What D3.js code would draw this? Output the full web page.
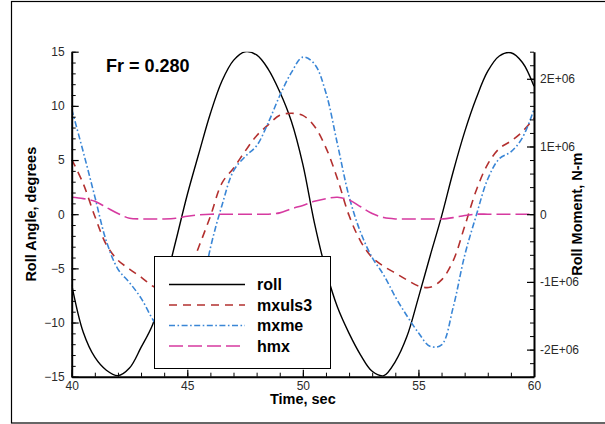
<!DOCTYPE html>
<html>
<head>
<meta charset="utf-8">
<script src="https://cdn.jsdelivr.net/npm/d3@7"></script>
<style>
  body { margin: 0; background: #fff; }
  text { font-family: "Liberation Sans", Arial, sans-serif; }
</style>
</head>
<body>
<div id="chart"></div>
<script>
// time stamps, sec
const time = [40, 40.5, 41, 41.5, 42, 42.5, 43, 43.5, 44, 44.5, 45, 45.5, 46, 46.5, 47, 47.5,
  48, 48.5, 49, 49.5, 50, 50.5, 51, 51.5, 52, 52.5, 53, 53.5, 54, 54.5, 55, 55.5, 56, 56.5,
  57, 57.5, 58, 58.5, 59, 59.5, 60];

// roll angle, degrees (left axis)
const roll = [-6.5, -10.9, -13.2, -14.4, -14.9, -14.2, -12.3, -10.2, -6.7, -2.5, 1.8, 5.6,
  9.3, 12.3, 14.2, 15.0, 14.7, 13.4, 11.3, 8.6, 4.6, -0.8, -5.2, -8.6, -11.0, -13.0, -14.5,
  -14.9, -13.6, -11.3, -7.7, -3.9, -0.2, 3.9, 7.6, 10.7, 13.2, 14.6, 14.9, 14.0, 11.8];

// roll moments, N-m (right axis)
const mxuls3 = [0.81e6, 0.45e6, -0.03e6, -0.45e6, -0.68e6, -0.81e6, -0.93e6, -1.06e6, -1.13e6,
  -1.11e6, -0.90e6, -0.48e6, -0.03e6, 0.46e6, 0.68e6, 0.93e6, 1.16e6, 1.32e6, 1.46e6, 1.49e6,
  1.46e6, 1.30e6, 0.98e6, 0.52e6, -0.02e6, -0.40e6, -0.64e6, -0.77e6, -0.87e6, -0.97e6,
  -1.06e6, -1.08e6, -0.97e6, -0.69e6, -0.18e6, 0.35e6, 0.74e6, 0.97e6, 1.08e6, 1.22e6, 1.42e6];

const mxme = [1.55e6, 0.92e6, 0.26e6, -0.40e6, -0.81e6, -1.01e6, -1.24e6, -1.55e6, -1.80e6,
  -1.96e6, -1.87e6, -1.37e6, -0.50e6, 0.13e6, 0.64e6, 0.85e6, 1.01e6, 1.35e6, 1.75e6, 2.09e6,
  2.32e6, 2.22e6, 1.79e6, 1.03e6, 0.26e6, -0.27e6, -0.64e6, -0.90e6, -1.22e6, -1.50e6,
  -1.75e6, -1.95e6, -1.93e6, -1.38e6, -0.61e6, -0.02e6, 0.52e6, 0.82e6, 0.92e6, 1.13e6, 1.55e6];

const hmx = [0.25e6, 0.23e6, 0.19e6, 0.10e6, 0.01e6, -0.06e6, -0.07e6, -0.07e6, -0.07e6,
  -0.06e6, -0.03e6, -0.01e6, 0, 0, 0, 0, 0, 0, 0.02e6, 0.08e6, 0.13e6, 0.19e6, 0.23e6, 0.25e6,
  0.21e6, 0.11e6, 0.01e6, -0.05e6, -0.07e6, -0.07e6, -0.07e6, -0.07e6, -0.07e6, -0.05e6,
  -0.02e6, 0, 0, 0, 0, 0, 0];

// tick labels
const xTicks = [40, 45, 50, 55, 60];
const yTicks = [-15, -10, -5, 0, 5, 10, 15];
const yRightTicks = [-2e6, -1e6, 0, 1e6, 2e6];
const yRightLabels = ["-2E+06", "-1E+06", "0", "1E+06", "2E+06"];

const series = [
  { name: "roll", values: roll, axis: "left", color: "#000000", dash: null, width: 1.4 },
  { name: "mxuls3", values: mxuls3, axis: "right", color: "#b3302f", dash: "8,6", width: 1.6 },
  { name: "mxme", values: mxme, axis: "right", color: "#3a86d6", dash: "6,2.5,1.6,2.5", width: 1.6 },
  { name: "hmx", values: hmx, axis: "right", color: "#d63aa0", dash: "14,5", width: 1.6 },
];

const W = 605, H = 424;
const margin = { top: 51.7, right: 71, bottom: 47.3, left: 71.7 };
const width = W - margin.left - margin.right;
const height = H - margin.top - margin.bottom;

const root = d3.select("#chart").append("svg")
  .attr("width", W)
  .attr("height", H);

// outer frame
root.append("rect")
  .attr("x", 11.5).attr("y", 1.5)
  .attr("width", 700).attr("height", 421.5)
  .attr("fill", "none")
  .attr("stroke", "#000")
  .attr("stroke-width", 1.2);

const svg = root.append("g")
  .attr("transform", `translate(${margin.left},${margin.top})`);

// scales
const x = d3.scaleLinear().domain([40, 60]).range([0, width]);
const y = d3.scaleLinear().domain([-15, 15]).range([height, 0]);
const yR = d3.scaleLinear().domain([-2.4e6, 2.4e6]).range([height, 0]);

svg.append("clipPath").attr("id", "clip")
  .append("rect").attr("width", width).attr("height", height);

// lines
const plot = svg.append("g").attr("clip-path", "url(#clip)");
series.forEach(s => {
  const sc = s.axis === "left" ? y : yR;
  const line = d3.line()
    .x((d, i) => x(time[i]))
    .y(d => sc(d))
    .curve(d3.curveCatmullRom.alpha(0.5));
  plot.append("path")
    .datum(s.values)
    .attr("fill", "none")
    .attr("stroke", s.color)
    .attr("stroke-width", s.width)
    .attr("stroke-dasharray", s.dash)
    .attr("d", line);
});

// minor ticks
svg.append("g")
  .call(d3.axisLeft(y).tickValues(d3.range(-15, 16, 1)).tickSize(-4).tickFormat(""))
  .call(g => g.select(".domain").remove());
svg.append("g")
  .attr("transform", `translate(${width},0)`)
  .call(d3.axisRight(yR).tickValues(d3.range(-24, 25, 2).map(v => v * 1e5)).tickSize(-4).tickFormat(""))
  .call(g => g.select(".domain").remove());
svg.append("g")
  .attr("transform", `translate(0,${height})`)
  .call(d3.axisBottom(x).tickValues(d3.range(40, 61, 1)).tickSize(-4).tickFormat(""))
  .call(g => g.select(".domain").remove());

// major axes
const styleAxis = g => {
  g.select(".domain").attr("stroke-width", 2);
  g.selectAll(".tick line").attr("stroke-width", 1.2);
  g.selectAll("text").style("font-size", "12px").attr("fill", "#2a2a2a");
};
svg.append("g")
  .call(d3.axisLeft(y).tickValues(yTicks).tickSize(-7).tickSizeOuter(0).tickPadding(7))
  .call(styleAxis);
svg.append("g")
  .attr("transform", `translate(${width},0)`)
  .call(d3.axisRight(yR).tickValues(yRightTicks).tickSize(-7).tickSizeOuter(0).tickPadding(6)
    .tickFormat((d, i) => yRightLabels[i]))
  .call(styleAxis);
svg.append("g")
  .attr("transform", `translate(0,${height})`)
  .call(d3.axisBottom(x).tickValues(xTicks).tickSize(-7).tickSizeOuter(0).tickPadding(4.5))
  .call(styleAxis);

// axis titles
svg.append("text")
  .attr("x", width / 2)
  .attr("y", height + 27.5)
  .attr("text-anchor", "middle")
  .style("font-size", "14.5px")
  .style("font-weight", "bold")
  .text("Time, sec");

svg.append("text")
  .attr("transform", `translate(${31 - margin.left},${height / 2}) rotate(-90)`)
  .attr("text-anchor", "middle")
  .attr("dy", "0.35em")
  .style("font-size", "14.5px")
  .style("font-weight", "bold")
  .text("Roll Angle, degrees");

svg.append("text")
  .attr("transform", `translate(${576.5 - margin.left},${height / 2}) rotate(-90)`)
  .attr("text-anchor", "middle")
  .attr("dy", "0.35em")
  .style("font-size", "14.5px")
  .style("font-weight", "bold")
  .text("Roll Moment, N-m");

// annotation
svg.append("text")
  .attr("x", 106 - margin.left)
  .attr("y", 71.7 - margin.top)
  .style("font-size", "18px")
  .style("font-weight", "bold")
  .text("Fr = 0.280");

// legend
const legend = root.append("g").attr("transform", "translate(154,256)");
legend.append("rect")
  .attr("x", 0.5).attr("y", 0.5)
  .attr("width", 176).attr("height", 112)
  .attr("fill", "#fff")
  .attr("stroke", "#000")
  .attr("stroke-width", 1);
series.forEach((s, i) => {
  const ly = 28.5 + i * 20.5;
  legend.append("line")
    .attr("x1", 15).attr("x2", 91)
    .attr("y1", ly).attr("y2", ly)
    .attr("stroke", s.color)
    .attr("stroke-width", s.width)
    .attr("stroke-dasharray", s.dash);
  legend.append("text")
    .attr("x", 103)
    .attr("y", ly)
    .attr("dy", "0.35em")
    .style("font-size", "16px")
    .style("font-weight", "bold")
    .text(s.name);
});
</script>
</body>
</html>
